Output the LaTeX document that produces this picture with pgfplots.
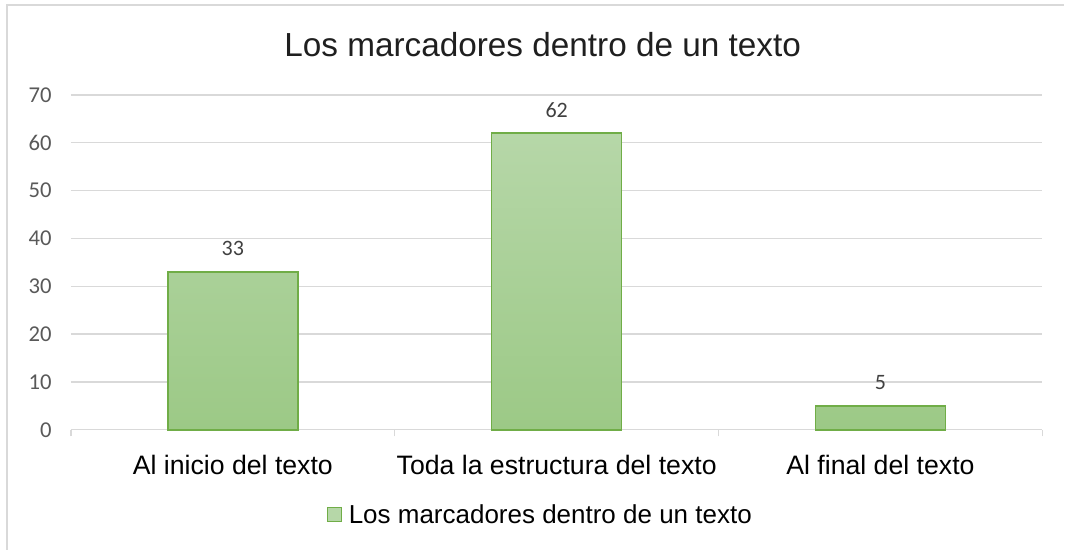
\documentclass[border=0pt]{standalone}
\usepackage{fontspec}
\setmainfont{Liberation Sans}
\newfontfamily\carlito{Carlito}
\usepackage{pgfplots}
\pgfplotsset{compat=1.18}
\definecolor{gridgray}{HTML}{D9D9D9}
\definecolor{ticktext}{HTML}{595959}
\definecolor{labeltext}{HTML}{404040}
\definecolor{barline}{HTML}{70AD47}
\definecolor{bartop}{HTML}{B6D7A8}
\definecolor{barbot}{HTML}{9CC986}
\begin{document}
\begin{tikzpicture}
% canvas 1065x550 px at 0.75pt per px
\path (0,0) rectangle (798.75pt,412.5pt);
\draw[gridgray, line width=1pt] (5.25pt,0) -- (5.25pt,408.75pt) -- (798.75pt,408.75pt);
\node[anchor=base, font=\fontsize{25}{30}\selectfont, text=black!88] at (407.25pt,369.75pt)
  {Los marcadores dentro de un texto};
\begin{axis}[
  at={(53.25pt,90pt)}, anchor=south west,
  scale only axis, width=729pt, height=251.25pt,
  xmin=-0.5, xmax=2.5, ymin=0, ymax=70,
  axis x line*=bottom, axis y line*=left,
  x axis line style={draw=gridgray, line width=1pt, -},
  y axis line style={draw=none},
  xtick={0,1,2},
  xticklabels={Al inicio del texto, Toda la estructura del texto, Al final del texto},
  minor xtick={-0.5,0.5,1.5,2.5},
  major x tick style={draw=none},
  minor x tick style={draw=gridgray, line width=1pt},
  minor tick length=5pt, xtick align=outside,
  xticklabel style={anchor=base, yshift=-29pt, font=\fontsize{20}{24}\selectfont},
  ytick={0,10,...,70},
  ytick style={draw=none},
  ymajorgrids, grid style={gridgray, line width=1pt},
  /pgf/number format/assume math mode=true,
  yticklabel style={font=\carlito\fontsize{17}{20}\selectfont, text=ticktext, xshift=-11pt},
  ybar, bar width=97.5pt,
  nodes near coords,
  every node near coord/.append style={anchor=base, yshift=12pt, font=\carlito\fontsize{16.5}{20}\selectfont, text=labeltext},
  legend style={at={(0.4835,-0.2537)}, anchor=center, draw=none, fill=none,
    font=\fontsize{19.5}{23}\selectfont, inner sep=0pt,
    /tikz/every odd column/.append style={column sep=3pt}},
  legend image code/.code={\draw[#1, draw=barline, line width=1pt, top color=bartop, bottom color=bartop] (0pt,-5.25pt) rectangle (10.5pt,5.25pt);},
  clip=false,
]
\addplot[draw=barline, line width=1.2pt, top color=bartop, bottom color=barbot] coordinates {(0,33) (1,62) (2,5)};
\addlegendentry{Los marcadores dentro de un texto}
\end{axis}
\end{tikzpicture}
\end{document}
